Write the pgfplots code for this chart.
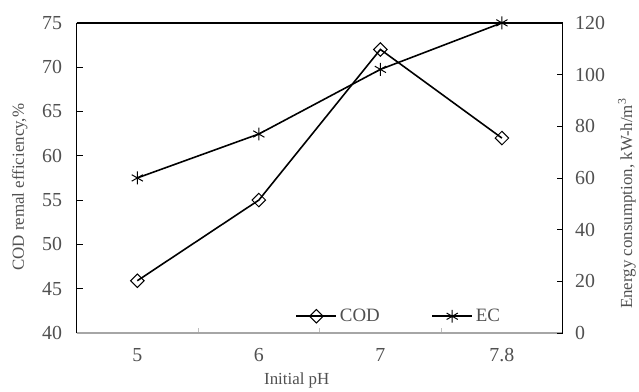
\documentclass[border=0pt]{standalone}
\usepackage{fontspec}
\setmainfont{Liberation Serif}
\usepackage{pgfplots}
\pgfplotsset{compat=1.18}
\definecolor{txt}{HTML}{505050}
\begin{document}
\begin{tikzpicture}[x=1pt,y=1pt]
\pgfplotsset{
  common/.style={
    width=489pt, height=312pt, scale only axis,
    xmin=-0.5, xmax=3.5,
    /pgf/number format/assume math mode=true,
    tick label style={font=\fontsize{20}{20}\selectfont, text=txt},
    label style={font=\fontsize{17}{17}\selectfont, text=txt},
    tick align=inside,
    major tick length=6pt,
    minor tick length=5pt,
  },
}
\begin{axis}[common, name=ax,
  axis y line*=left, axis x line*=bottom,
  x axis line style={draw=gray!70, line width=1.8pt, -},
  y axis line style={draw=black, line width=1.6pt, -},
  ymin=40, ymax=75, ytick={40,45,...,75},
  ytick style={black, line width=0.8pt},
  xtick={0,1,2,3}, xticklabels={5,6,7,7.8},
  xtick style={draw=none},
  minor xtick={0.5,1.5,2.5},
  minor x tick style={draw=gray!50, line width=0.8pt},
  xticklabel style={yshift=-12pt},
  yticklabel style={xshift=-11pt},
  xlabel={Initial pH},
  x label style={at={(axis description cs:0.453,-0.152)}, anchor=center},
  ylabel={COD remal efficiency,\%},
  y label style={at={(axis description cs:-0.117,0.47)}, anchor=center, rotate=0},
]
\addplot[black, line width=1.6pt, mark=square, mark size=4.8pt,
  mark options={rotate=45, fill=white, line width=1pt}]
  coordinates {(0,45.9) (1,55) (2,72) (3,62)};
\end{axis}
\begin{axis}[common,
  axis y line*=right, axis x line*=top,
  x axis line style={draw=black, line width=1.4pt, -},
  y axis line style={draw=black, line width=1.4pt, -},
  ymin=0, ymax=120, ytick={0,20,...,120},
  ytick style={black, line width=0.8pt},
  xtick=\empty,
  yticklabel style={xshift=9pt},
  ylabel={Energy consumption, kW-h/m\textsuperscript{3}},
  y label style={at={(axis description cs:1.132,0.417)}, anchor=center, rotate=0},
  legend columns=2,
  legend style={draw=none, fill=none, at={(axis description cs:0.663,0.054)}, anchor=center,
    font=\fontsize{19}{19}\selectfont, text=txt,
    /tikz/every odd column/.append style={column sep=1pt},
    /tikz/every even column/.append style={column sep=50pt}},
  legend image code/.code={\draw[mark repeat=2,mark phase=2,#1] plot coordinates {(0pt,0pt) (20pt,0pt) (40pt,0pt)};},
]
\addlegendimage{black, line width=1.6pt, mark=square, mark size=4.8pt, mark options={rotate=45, fill=white, line width=1pt}}
\addlegendentry{COD}
\addplot[black, line width=1.6pt, mark=asterisk, mark size=6.5pt, mark options={line width=1pt}]
  coordinates {(0,60) (1,77) (2,102) (3,120)};
\addlegendentry{EC}
\end{axis}
\path[use as bounding box] ([xshift=-77pt,yshift=-55pt]ax.south west) rectangle ([xshift=73pt,yshift=23pt]ax.north east);
\end{tikzpicture}
\end{document}
